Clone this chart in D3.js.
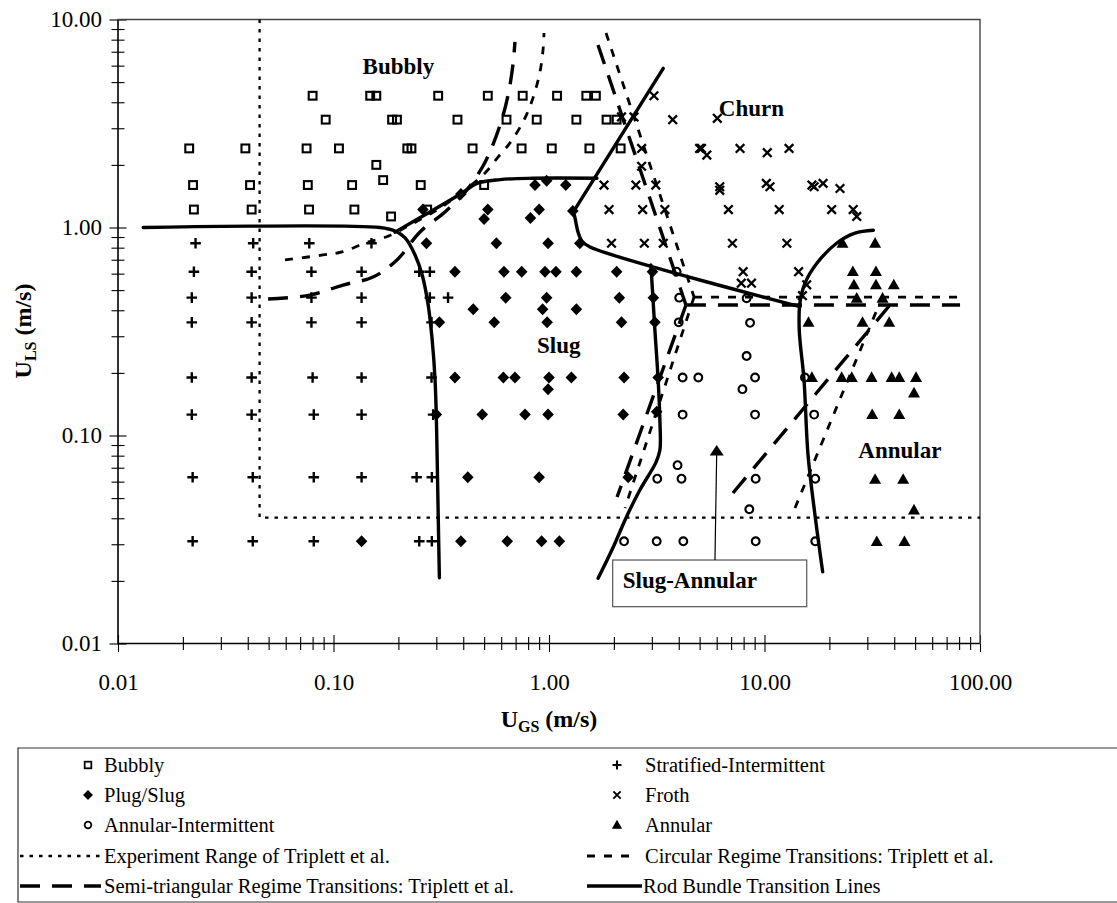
<!DOCTYPE html>
<html>
<head>
<meta charset="utf-8">
<script src="https://cdn.jsdelivr.net/npm/d3@7"></script>
<style>
  html, body { margin: 0; padding: 0; background: #fff; }
  svg { display: block; font-family: "Liberation Serif", "Times New Roman", serif; }
</style>
</head>
<body>
<svg id="chart" width="1117" height="903"></svg>
<script>
// Superficial velocities [U_GS, U_LS] in m/s, one array per observed regime.
const bubbly = [
  [0.08,4.3],[0.148,4.3],[0.158,4.3],[0.306,4.3],[0.52,4.3],[0.755,4.3],[1.09,4.3],[1.49,4.3],[1.65,4.3],
  [0.092,3.3],[0.187,3.3],[0.197,3.3],[0.376,3.3],[0.635,3.3],[0.877,3.3],[1.34,3.3],[1.85,3.3],[2.06,3.3],
  [0.0214,2.4],[0.039,2.4],[0.075,2.4],[0.106,2.4],[0.22,2.4],[0.23,2.4],[0.442,2.4],[0.746,2.4],[1.03,2.4],[1.54,2.4],[2.15,2.4],
  [0.158,2.0],[0.17,1.69],
  [0.0223,1.6],[0.041,1.6],[0.076,1.6],[0.122,1.6],[0.254,1.6],[0.5,1.6],
  [0.0225,1.22],[0.0417,1.22],[0.077,1.22],[0.125,1.22],[0.272,1.22],
  [0.185,1.13]
];
const stratifiedIntermittent = [
  [0.0229,0.84],[0.0424,0.84],[0.0772,0.84],[0.15,0.84],
  [0.0225,0.613],[0.0417,0.613],[0.079,0.613],[0.135,0.613],[0.25,0.613],[0.28,0.613],
  [0.022,0.46],[0.0417,0.46],[0.079,0.46],[0.135,0.46],[0.28,0.46],[0.34,0.46],
  [0.022,0.35],[0.0417,0.35],[0.079,0.35],[0.135,0.35],[0.285,0.35],
  [0.022,0.19],[0.0417,0.19],[0.08,0.19],[0.135,0.19],[0.285,0.19],
  [0.022,0.126],[0.0417,0.126],[0.081,0.126],[0.135,0.126],[0.29,0.126],
  [0.0222,0.063],[0.0422,0.063],[0.081,0.063],[0.135,0.063],[0.243,0.063],[0.286,0.063],
  [0.0222,0.031],[0.0422,0.031],[0.081,0.031],[0.25,0.031],[0.286,0.031]
];
const plugSlug = [
  [0.39,1.45],[0.861,1.6],[0.975,1.68],[1.196,1.6],
  [0.26,1.22],[0.52,1.22],[0.5,1.1],[0.9,1.22],[0.82,1.11],[1.29,1.2],
  [0.27,0.84],[0.57,0.84],[0.99,0.84],[1.39,0.84],
  [0.366,0.613],[0.618,0.613],[0.747,0.613],[0.958,0.613],[1.077,0.613],[1.34,0.613],[2.06,0.613],[3.02,0.613],
  [0.63,0.46],[0.975,0.46],[2.12,0.46],[3.05,0.46],
  [0.445,0.405],[0.934,0.405],[1.34,0.405],
  [0.31,0.35],[0.557,0.35],[0.98,0.35],[2.17,0.35],[3.1,0.35],
  [0.366,0.19],[0.614,0.19],[0.695,0.19],[1.0,0.19],[1.27,0.19],[2.23,0.19],[3.21,0.19],
  [0.99,0.167],
  [0.3,0.126],[0.49,0.126],[0.774,0.126],[0.99,0.126],[2.21,0.126],[3.16,0.13],
  [0.42,0.063],[0.9,0.063],[2.33,0.063],
  [0.135,0.031],[0.39,0.031],[0.64,0.031],[0.924,0.031],[1.117,0.031]
];
const froth = [
  [3.07,4.3],[2.17,3.4],[2.48,3.4],[3.75,3.3],[6.04,3.35],
  [2.69,2.4],[2.69,1.97],[5.0,2.4],[5.1,2.4],[5.4,2.23],[7.7,2.4],[10.3,2.29],[13.0,2.4],
  [1.8,1.6],[2.53,1.6],[3.13,1.6],[6.2,1.57],[6.2,1.51],[10.2,1.63],[10.6,1.57],
  [16.6,1.6],[17.0,1.57],[18.7,1.63],[22.4,1.54],
  [1.9,1.22],[2.72,1.22],[3.45,1.22],[6.8,1.22],[11.7,1.22],[20.5,1.22],[25.8,1.22],[26.8,1.13],
  [1.95,0.84],[2.77,0.84],[3.39,0.84],[7.1,0.84],[12.7,0.84],
  [7.96,0.613],[14.4,0.613],[7.8,0.54],[8.7,0.54],[15.7,0.53],[15.0,0.47]
];
const annularIntermittent = [
  [3.91,0.613],[4.02,0.46],[4.0,0.35],[4.17,0.19],[4.93,0.19],[4.17,0.126],
  [8.26,0.457],[8.57,0.348],[8.26,0.241],[9.04,0.19],[7.9,0.167],[9.04,0.126],[15.4,0.19],[17.0,0.126],
  [9.1,0.062],[8.5,0.0442],[9.1,0.031],[17.2,0.062],[17.2,0.031],
  [3.18,0.062],[3.95,0.072],[4.12,0.062],[2.23,0.031],[3.16,0.031],[4.2,0.031]
];
const annular = [
  [23,0.84],[32.6,0.84],[25.7,0.613],[32.9,0.613],[26,0.53],[32.9,0.53],[39.8,0.53],
  [26.8,0.457],[35.3,0.457],[16,0.35],[28.5,0.35],[37.9,0.35],
  [16.6,0.19],[22.8,0.19],[25.4,0.19],[31.4,0.19],[38.9,0.19],[42.2,0.19],[50.5,0.19],[49.4,0.16],
  [31.6,0.126],[42.2,0.126],[32.6,0.0615],[44,0.0615],[49.4,0.0438],[33.2,0.0309],[44.6,0.0309]
];

// Experiment range of Triplett et al.
const experimentRange = [[0.0454,10],[0.0454,0.0403],[100,0.0403]];

// Circular-channel transitions, Triplett et al.
const circularBubblySlug = [[0.0596,0.698],[0.0893,0.738],[0.1107,0.765],[0.14,0.842],[0.1752,0.9],[0.2265,1.028],
  [0.312,1.24],[0.408,1.514],[0.505,1.83],[0.58,2.18],[0.659,2.55],[0.766,3.29],[0.843,4.2],[0.908,5.6],[0.938,7.13],[0.948,8.61]];
const circularSlugChurn = [[1.839,8.61],[4.71,0.463]];
const circularSlugAnnular = [[4.71,0.463],[2.253,0.0448]];
const circularChurnAnnular = [[4.71,0.463],[85.2,0.463]];
const circularAnnular = [[13.85,0.0448],[32.9,0.392]];

// Semi-triangular channel transitions, Triplett et al.
const semiBubblySlug = [[0.0497,0.453],[0.0778,0.473],[0.1107,0.529],[0.1525,0.578],[0.197,0.698],[0.252,0.952],
  [0.329,1.188],[0.408,1.48],[0.505,2.06],[0.593,3.11],[0.646,4.34],[0.68,6.04],[0.695,7.8]];
const semiSlugChurn = [[1.688,7.54],[4.32,0.424]];
const semiSlugAnnular = [[4.32,0.424],[2.07,0.0506]];
const semiChurnAnnular = [[4.32,0.424],[80.8,0.424]];
const semiAnnular = [[7.14,0.0529],[38.2,0.424]];

// Rod bundle transition lines
const rodStratified = [[0.0131,1.0],[0.164,1.0],[0.193,0.962],[0.215,0.891],[0.239,0.738],[0.258,0.591],
  [0.275,0.424],[0.287,0.288],[0.296,0.185],[0.301,0.106],[0.304,0.061],[0.307,0.0351],[0.31,0.0207]];
const rodBubblySlug = [[0.193,0.95],[0.28,1.188],[0.395,1.466],[0.463,1.63],[0.593,1.70],[0.843,1.725],[1.67,1.725]];
const rodBubblyChurn = [[1.297,1.19],[3.39,5.82]];
const rodSlugChurn = [[1.297,1.19],[1.318,1.12],[1.364,0.95],[1.42,0.861],[1.55,0.806],[14.6,0.416]];
const rodSlugAnnular = [[2.97,0.66],[3.02,0.5],[3.1,0.322],[3.21,0.185],[3.27,0.1187],[3.27,0.0851],[3.14,0.0745],
  [2.64,0.0547],[2.29,0.0407],[1.99,0.0292],[1.69,0.0206]];
const rodChurnAnnular = [[32,0.97],[26.3,0.94],[21.6,0.84],[17.5,0.673],[15.4,0.539],[14.6,0.434],[14.5,0.32],
  [15.25,0.185],[15.92,0.0807],[17.15,0.0415],[18.62,0.0221]];

const xTickValues = [0.01, 0.1, 1, 10, 100];
const yTickValues = [0.01, 0.1, 1, 10];

// ---- layout ----
const svg = d3.select("#chart");
const x = d3.scaleLog().domain([0.01, 100]).range([118, 980]);
const y = d3.scaleLog().domain([0.01, 10]).range([643.5, 19.5]);
const INK = "#000";
const SERIF = "'Liberation Serif', 'Times New Roman', serif";

svg.append("rect").attr("width", 1117).attr("height", 903).attr("fill", "#fff");

// minor ticks (2..9 in each decade)
const minorX = [], minorY = [];
for (let e = -2; e < 2; e++) for (let k = 2; k <= 9; k++) minorX.push(k * Math.pow(10, e));
for (let e = -2; e < 1; e++) for (let k = 2; k <= 9; k++) minorY.push(k * Math.pow(10, e));

const y0 = y(0.01), x0 = x(0.01);
function tickAxis(axis, g, size) {
  g.call(axis.tickSize(size).tickFormat(""));
  g.select(".domain").remove();
  g.selectAll(".tick line").attr("stroke", INK).attr("stroke-width", 1.1);
}
// crossing ticks: one outward, one inward
[[minorX, 6.5], [xTickValues, 8.5]].forEach(([vals, s]) => {
  tickAxis(d3.axisBottom(x).tickValues(vals), svg.append("g").attr("transform", `translate(0,${y0})`), s);
  tickAxis(d3.axisBottom(x).tickValues(vals), svg.append("g").attr("transform", `translate(0,${y0})`), -s);
});
[[minorY, 6.5], [yTickValues, 8.5]].forEach(([vals, s]) => {
  tickAxis(d3.axisLeft(y).tickValues(vals), svg.append("g").attr("transform", `translate(${x0},0)`), s);
  tickAxis(d3.axisLeft(y).tickValues(vals), svg.append("g").attr("transform", `translate(${x0},0)`), -s);
});

// tick labels
const fmt = d3.format(".2f");
const xl = svg.append("g").attr("transform", `translate(0,${y0})`)
  .call(d3.axisBottom(x).tickValues(xTickValues).tickFormat(fmt).tickSize(0).tickPadding(30));
const yl = svg.append("g").attr("transform", `translate(${x0},0)`)
  .call(d3.axisLeft(y).tickValues(yTickValues).tickFormat(fmt).tickSize(0).tickPadding(16));
[xl, yl].forEach(g => {
  g.attr("font-family", SERIF);
  g.select(".domain").remove();
  g.selectAll("text").attr("font-size", 23).attr("fill", INK).attr("font-family", SERIF);
});

// axis lines and frame
svg.append("path").attr("d", `M${x(0.01)},${y(10)}V${y(0.01)}H${x(100)}`)
  .attr("fill", "none").attr("stroke", INK).attr("stroke-width", 1.6);
svg.append("path").attr("d", `M${x(0.01)},${y(10)}H${x(100)}V${y(0.01)}`)
  .attr("fill", "none").attr("stroke", "#444").attr("stroke-width", 1.4);

// ---- transition lines ----
const curve = d3.line().x(d => x(d[0])).y(d => y(d[1])).curve(d3.curveCatmullRom.alpha(0.5));
const straight = d3.line().x(d => x(d[0])).y(d => y(d[1]));
const lineStyles = {
  experiment: { w: 2.3, dash: "3.5,6", cap: "butt" },
  circular:   { w: 2.8, dash: "8,9", cap: "butt" },
  semi:       { w: 3.4, dash: "20,12", cap: "butt" },
  rod:        { w: 3.4, dash: null, cap: "round" }
};
function drawLine(data, style, gen) {
  const s = lineStyles[style];
  svg.append("path").attr("d", gen(data)).attr("fill", "none").attr("stroke", INK)
    .attr("stroke-width", s.w).attr("stroke-dasharray", s.dash).attr("stroke-linecap", s.cap)
    .attr("stroke-linejoin", "round");
}
drawLine(experimentRange, "experiment", straight);
drawLine(circularBubblySlug, "circular", curve);
drawLine(circularSlugChurn, "circular", straight);
drawLine(circularSlugAnnular, "circular", straight);
drawLine(circularChurnAnnular, "circular", straight);
drawLine(circularAnnular, "circular", straight);
drawLine(semiBubblySlug, "semi", curve);
drawLine(semiSlugChurn, "semi", straight);
drawLine(semiSlugAnnular, "semi", straight);
drawLine(semiChurnAnnular, "semi", straight);
drawLine(semiAnnular, "semi", straight);
drawLine(rodStratified, "rod", curve);
drawLine(rodBubblySlug, "rod", curve);
drawLine(rodBubblyChurn, "rod", straight);
drawLine(rodSlugChurn, "rod", curve);
drawLine(rodSlugAnnular, "rod", curve);
drawLine(rodChurnAnnular, "rod", curve);

// ---- markers ----
const markers = {
  square:   g => g.append("rect").attr("x", -3.9).attr("y", -3.9).attr("width", 7.8).attr("height", 7.8)
                  .attr("fill", "none").attr("stroke", INK).attr("stroke-width", 2.1),
  plus:     g => g.append("path").attr("d", "M-5.3,0H5.3M0,-5.3V5.3").attr("stroke", INK).attr("stroke-width", 2.4),
  diamond:  g => g.append("path").attr("d", "M0,-6L5.8,0L0,6L-5.8,0Z").attr("fill", INK),
  times:    g => g.append("path").attr("d", "M-4.3,-4.3L4.3,4.3M-4.3,4.3L4.3,-4.3").attr("stroke", INK).attr("stroke-width", 2.3),
  circle:   g => g.append("circle").attr("r", 3.9).attr("fill", "none").attr("stroke", INK).attr("stroke-width", 2.1),
  triangle: g => g.append("path").attr("d", "M0,-6.2L6,4.4L-6,4.4Z").attr("fill", INK)
};
const series = [
  { name: "Bubbly", data: bubbly, m: "square" },
  { name: "Plug/Slug", data: plugSlug, m: "diamond" },
  { name: "Annular-Intermittent", data: annularIntermittent, m: "circle" },
  { name: "Stratified-Intermittent", data: stratifiedIntermittent, m: "plus" },
  { name: "Froth", data: froth, m: "times" },
  { name: "Annular", data: annular, m: "triangle" }
];
series.forEach(s => {
  svg.append("g").selectAll("g").data(s.data).join("g")
    .attr("transform", d => `translate(${x(d[0])},${y(d[1])})`)
    .each(function () { markers[s.m](d3.select(this)); });
});

// ---- regime labels ----
function label(txt, xv, yv, anchor) {
  return svg.append("text").attr("x", x(xv)).attr("y", y(yv)).attr("text-anchor", anchor || "middle")
    .attr("font-weight", "bold").attr("font-size", 23).attr("fill", INK).text(txt);
}
label("Bubbly", 0.2, 5.5);
label("Churn", 8.7, 3.44);
label("Slug", 1.11, 0.25);
label("Annular", 42.5, 0.078);

// Slug-Annular callout with arrow
svg.append("rect").attr("x", x(1.975)).attr("y", y(0.0252))
  .attr("width", x(15.7) - x(1.975)).attr("height", y(0.01503) - y(0.0252))
  .attr("fill", "#fff").attr("stroke", "#555").attr("stroke-width", 1.2);
label("Slug-Annular", 2.198, 0.01842, "start");
const ax0 = x(5.89), ay0 = y(0.0252), ax1 = x(6.0), ay1 = y(0.09);
svg.append("line").attr("x1", ax0).attr("y1", ay0).attr("x2", ax1).attr("y2", ay1 + 8)
  .attr("stroke", INK).attr("stroke-width", 1.2);
svg.append("path").attr("d", `M${ax1},${ay1}L${ax1 + 7},${ay1 + 10.5}L${ax1 - 7},${ay1 + 10.5}Z`).attr("fill", INK);

// ---- axis titles ----
function subTitle(g, main, sub, rest) {
  g.attr("font-weight", "bold").attr("font-size", 24).attr("fill", INK).attr("text-anchor", "middle");
  g.append("tspan").text(main);
  g.append("tspan").attr("font-size", 16).attr("dy", 5).text(sub);
  g.append("tspan").attr("dy", -5).text(rest);
}
subTitle(svg.append("text").attr("x", 549).attr("y", 727), "U", "GS", " (m/s)");
subTitle(svg.append("text").attr("transform", "translate(31,331) rotate(-90)"), "U", "LS", " (m/s)");

// ---- legend ----
const lg = svg.append("g");
lg.append("path").attr("d", "M1117,748H18V902H1117").attr("fill", "none").attr("stroke", "#333").attr("stroke-width", 1.2);
const rowY = [765, 795, 825, 856, 886];
const legendMarkers = [
  { col: 0, row: 0, m: "square", text: "Bubbly" },
  { col: 0, row: 1, m: "diamond", text: "Plug/Slug" },
  { col: 0, row: 2, m: "circle", text: "Annular-Intermittent" },
  { col: 1, row: 0, m: "plus", text: "Stratified-Intermittent" },
  { col: 1, row: 1, m: "times", text: "Froth" },
  { col: 1, row: 2, m: "triangle", text: "Annular" }
];
const colMarkX = [88, 617], colTextX = [104, 645];
legendMarkers.forEach(d => {
  markers[d.m](lg.append("g").attr("transform", `translate(${colMarkX[d.col]},${rowY[d.row]}) scale(0.85)`));
  lg.append("text").attr("x", colTextX[d.col]).attr("y", rowY[d.row] + 7).attr("font-size", 20.5).attr("fill", INK).text(d.text);
});
const legendLines = [
  { x1: 20, x2: 101, row: 3, s: "experiment", text: "Experiment Range of Triplett et al.", tx: 104 },
  { x1: 20, x2: 101, row: 4, s: "semi", text: "Semi-triangular Regime Transitions: Triplett et al.", tx: 104 },
  { x1: 587, x2: 637, row: 3, s: "circular", text: "Circular Regime Transitions: Triplett et al.", tx: 645 },
  { x1: 587, x2: 642, row: 4, s: "rod", text: "Rod Bundle Transition Lines", tx: 643 }
];
legendLines.forEach(d => {
  const s = lineStyles[d.s];
  lg.append("line").attr("x1", d.x1).attr("x2", d.x2).attr("y1", rowY[d.row]).attr("y2", rowY[d.row])
    .attr("stroke", INK).attr("stroke-width", s.w).attr("stroke-dasharray", s.dash);
  lg.append("text").attr("x", d.tx).attr("y", rowY[d.row] + 7).attr("font-size", 20.5).attr("fill", INK).text(d.text);
});
</script>
</body>
</html>
